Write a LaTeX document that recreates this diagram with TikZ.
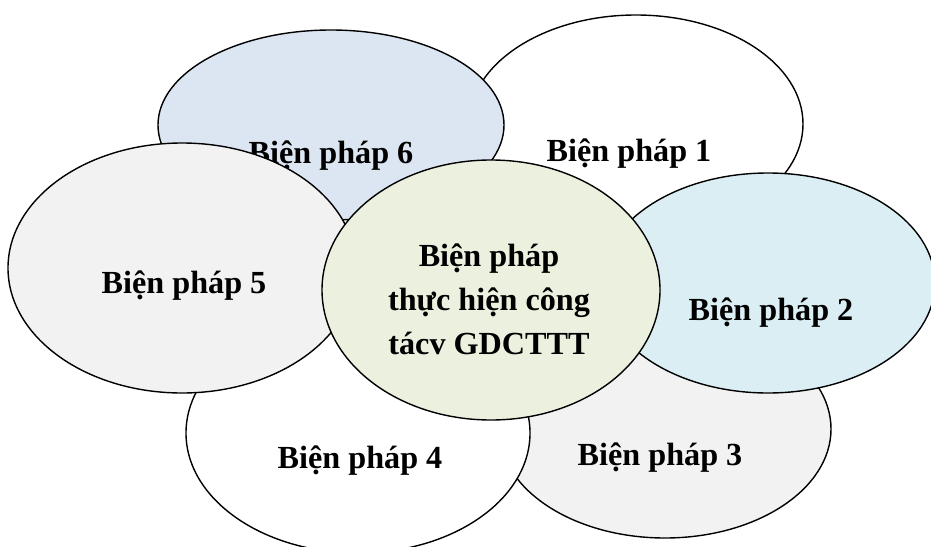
\documentclass[tikz,border=0pt]{standalone}
\usepackage{fontspec}
\setmainfont{Liberation Serif}
\usetikzlibrary{shapes.geometric}
\definecolor{cSix}{HTML}{DCE6F2}
\definecolor{cTwo}{HTML}{DBEEF4}
\definecolor{cGray}{HTML}{F2F2F2}
\definecolor{cMid}{HTML}{EBF1DE}
\tikzset{
  blob/.style={ellipse, draw=black, line width=1.4pt, inner sep=0pt},
  lbl/.style={font=\fontsize{32.2}{44}\selectfont\bfseries, inner sep=0pt, align=center}
}
\begin{document}
\begin{tikzpicture}[x=1pt,y=-1pt]
\useasboundingbox (0,0) rectangle (931,546);
% 1
\node[blob, fill=white, minimum width=334pt, minimum height=218pt] (e1) at (636,124) {};
\node[lbl] (t1) at (629,154) {Biện pháp 1};
% 3
\node[blob, fill=cGray, minimum width=332pt, minimum height=218pt] (e3) at (665,429) {};
\node[lbl] (t3) at (660,458) {Biện pháp 3};
% 4
\node[blob, fill=white, minimum width=344pt, minimum height=240pt] (e4) at (358,433) {};
\node[lbl] (t4) at (360,461) {Biện pháp 4};
% 6
\node[blob, fill=cSix, minimum width=346pt, minimum height=190pt] (e6) at (331,125) {};
\node[lbl] (t6) at (331,156) {Biện pháp 6};
% 2
\node[blob, fill=cTwo, minimum width=334pt, minimum height=220pt] (e2) at (768,283) {};
\node[lbl] (t2) at (771,313) {Biện pháp 2};
% 5
\node[blob, fill=cGray, minimum width=348pt, minimum height=250pt] (e5) at (182,268) {};
\node[lbl] (t5) at (184,286) {Biện pháp 5};
% centre
\node[blob, fill=cMid, minimum width=338pt, minimum height=260pt] (ec) at (491,290) {};
\node[lbl] (tc) at (489,299) {Biện pháp\\thực hiện công\\tácv GDCTTT};
\end{tikzpicture}
\end{document}
